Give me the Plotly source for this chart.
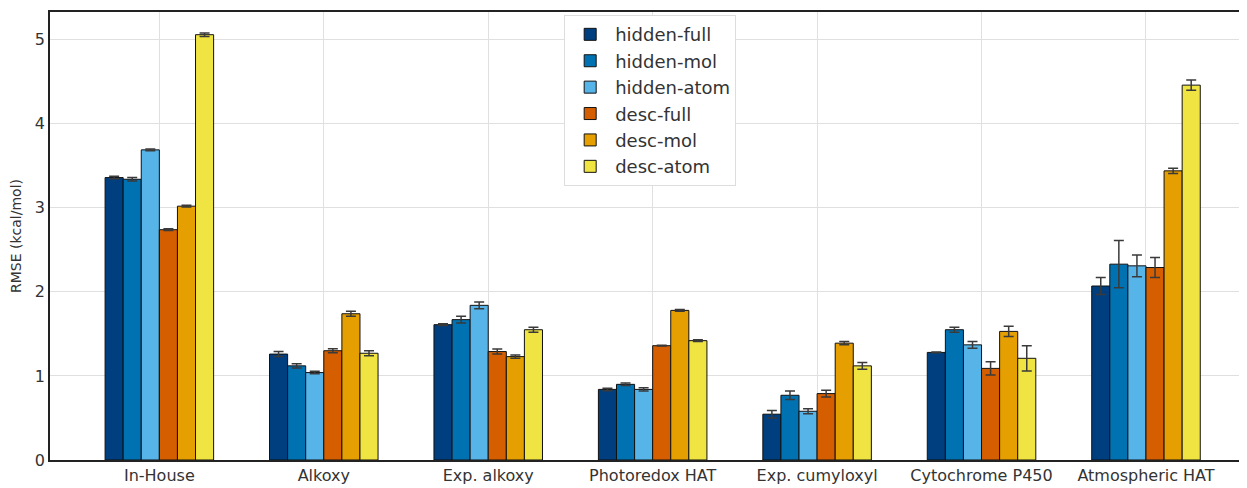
import plotly.graph_objects as go

categories = ["In-House", "Alkoxy", "Exp. alkoxy", "Photoredox HAT",
              "Exp. cumyloxyl", "Cytochrome P450", "Atmospheric HAT"]
series_names = ["hidden-full", "hidden-mol", "hidden-atom", "desc-full", "desc-mol", "desc-atom"]
colors = ["#003f7f", "#0072b2", "#56b4e9", "#d55e00", "#e69f00", "#f0e442"]

hidden_full = [3.36, 1.26, 1.61, 0.84, 0.545, 1.28, 2.07]
hidden_mol = [3.34, 1.12, 1.67, 0.90, 0.77, 1.55, 2.33]
hidden_atom = [3.69, 1.04, 1.84, 0.84, 0.58, 1.37, 2.31]
desc_full = [2.74, 1.30, 1.29, 1.36, 0.79, 1.09, 2.29]
desc_mol = [3.02, 1.74, 1.23, 1.78, 1.39, 1.53, 3.44]
desc_atom = [5.06, 1.27, 1.55, 1.42, 1.12, 1.21, 4.46]

err_hidden_full = [0.015, 0.03, 0.01, 0.015, 0.044, 0.005, 0.10]
err_hidden_mol = [0.02, 0.025, 0.04, 0.015, 0.05, 0.03, 0.28]
err_hidden_atom = [0.01, 0.015, 0.04, 0.02, 0.03, 0.04, 0.13]
err_desc_full = [0.01, 0.025, 0.03, 0.005, 0.04, 0.08, 0.12]
err_desc_mol = [0.01, 0.03, 0.02, 0.01, 0.02, 0.06, 0.03]
err_desc_atom = [0.02, 0.03, 0.03, 0.01, 0.04, 0.15, 0.06]

values = [hidden_full, hidden_mol, hidden_atom, desc_full, desc_mol, desc_atom]
errors = [err_hidden_full, err_hidden_mol, err_hidden_atom, err_desc_full, err_desc_mol, err_desc_atom]

fig = go.Figure()
for name, col, v, e in zip(series_names, colors, values, errors):
    fig.add_trace(go.Bar(
        name=name, x=categories, y=v, legendgroup=name,
        marker=dict(color=col, line=dict(color="#111111", width=1)),
        error_y=dict(type="data", array=e, visible=True, color="#3a3a3a", thickness=1.5, width=5),
    ))

fig.update_layout(
    width=1239, height=480,
    barmode="group", bargap=0.34, bargroupgap=0,
    plot_bgcolor="white", paper_bgcolor="white",
    margin=dict(l=42, r=2, t=2, b=28),
    font=dict(family="DejaVu Sans", size=16, color="#333333"),
    legend=dict(x=0.431, y=0.993, xanchor="left", yanchor="top",
                bgcolor="white", bordercolor="#dddddd", borderwidth=1,
                font=dict(size=18, color="#333333"), traceorder="grouped",
                tracegroupgap=0, itemwidth=40),
    xaxis=dict(range=[-0.665, 6.59], showgrid=True, gridcolor="#e0e0e0", gridwidth=1,
               showline=True, linecolor="#222222", linewidth=1.5, mirror=True,
               ticks="", tickfont=dict(size=16, color="#333333")),
    yaxis=dict(range=[0, 5.33], dtick=1, showgrid=True, gridcolor="#e0e0e0", gridwidth=1,
               showline=True, linecolor="#222222", linewidth=1.5, mirror=True,
               ticks="", zeroline=False, tickfont=dict(size=16, color="#333333"),
               title=dict(text="RMSE (kcal/mol)", font=dict(size=14, color="#333333"), standoff=10)),
)

fig.write_html("out.html")
